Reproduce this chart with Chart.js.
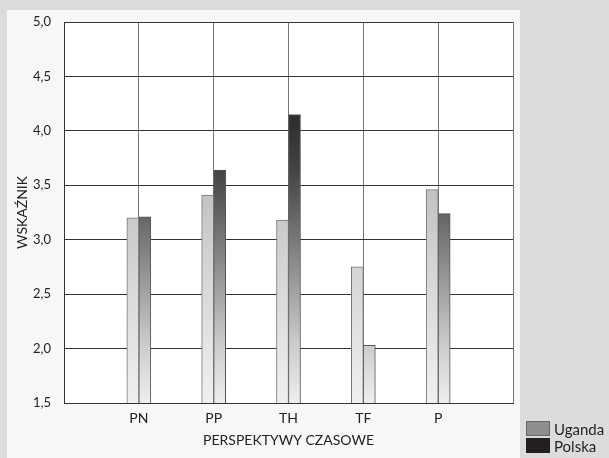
<!DOCTYPE html>
<html>
<head>
<meta charset="utf-8">
<script src="https://cdn.jsdelivr.net/npm/chart.js@4/dist/chart.umd.min.js"></script>
<style>
    html, body { margin: 0; padding: 0; background: #dcdcdc; }
    #wrap { position: relative; width: 609px; height: 458px; overflow: hidden; }
    #panel { position: absolute; left: 7px; top: 10px; width: 513px; height: 448px; background: #f7f7f7; }
    #chart { position: absolute; left: 0; top: 0; }
    .legend { position: absolute; left: 526px; font: 15px 'Lato', sans-serif; color: #231f20; line-height: 16px; white-space: nowrap; }
    .legend span { display: inline-block; width: 22px; height: 13px; vertical-align: top; margin-right: 4px; }
</style>
</head>
<body>
<div id="wrap">
    <div id="panel"></div>
    <canvas id="chart" width="609" height="458"></canvas>
    <div class="legend" style="top:421px"><span style="background:#8e8e8e;border:1px solid #666"></span>Uganda</div>
    <div class="legend" style="top:438px"><span style="background:#231f20;border:1px solid #231f20"></span>Polska</div>
</div>
<script>
// Dane wykresu
const CATEGORIES = ['', 'PN', 'PP', 'TH', 'TF', 'P', ''];
const UGANDA = [null, 3.20, 3.41, 3.18, 2.75, 3.46, null];
const POLSKA = [null, 3.21, 3.64, 4.15, 2.03, 3.24, null];
const Y_MIN = 1.5, Y_MAX = 5.0, Y_STEP = 0.5;

const FONT = "'Lato', sans-serif";
const TEXT = '#222';

// gradient liczony na cały obszar wykresu (ciemniej u góry)
const makeGradient = (chart, stops) => {
    const area = chart.chartArea;
    if (!area) return stops[0][1];
    const g = chart.ctx.createLinearGradient(0, area.bottom, 0, area.top);
    stops.forEach(([pos, col]) => g.addColorStop(pos, col));
    return g;
};

const whiteArea = {
    id: 'whiteArea',
    beforeDraw(chart) {
        const { ctx, chartArea: a } = chart;
        ctx.save();
        ctx.fillStyle = '#ffffff';
        ctx.fillRect(a.left, a.top, a.right - a.left, a.bottom - a.top);
        ctx.restore();
    }
};

new Chart(document.getElementById('chart'), {
    type: 'bar',
    data: {
        labels: CATEGORIES,
        datasets: [
            {
                label: 'Uganda',
                data: UGANDA,
                backgroundColor: (c) => makeGradient(c.chart, [[0, '#f0f0f0'], [0.36, '#d4d4d4'], [0.56, '#c2c2c4'], [1, '#b0b0b0']]),
                borderColor: '#777',
                borderWidth: 1,
                barThickness: 12
            },
            {
                label: 'Polska',
                data: POLSKA,
                backgroundColor: (c) => makeGradient(c.chart, [[0, '#eeeeee'], [0.15, '#cdcdcd'], [0.49, '#666666'], [0.61, '#444444'], [0.76, '#2b2b2b'], [1, '#202020']]),
                borderColor: '#555',
                borderWidth: 1,
                barThickness: 12
            }
        ]
    },
    options: {
        responsive: false,
        animation: false,
        layout: { padding: { top: 22, right: 96, left: 0, bottom: 0 } },
        plugins: {
            legend: { display: false },
            tooltip: { enabled: false }
        },
        scales: {
            x: {
                offset: false,
                grid: { color: '#777', lineWidth: 1, drawTicks: false, offset: false },
                border: { color: '#333', width: 1 },
                ticks: { color: TEXT, padding: 7, font: { family: FONT, size: 14 }, autoSkip: false, maxRotation: 0 },
                title: { display: true, text: 'PERSPEKTYWY CZASOWE', color: TEXT, font: { family: FONT, size: 14 }, padding: { top: 0, bottom: 9 } },
                afterFit: (s) => { s.height = 55; }
            },
            y: {
                min: Y_MIN,
                max: Y_MAX,
                grid: { color: '#333', lineWidth: 1, drawTicks: false },
                border: { color: '#333', width: 1 },
                ticks: {
                    stepSize: Y_STEP,
                    color: TEXT,
                    padding: 13,
                    font: { family: FONT, size: 13 },
                    callback: (v) => v.toFixed(1).replace('.', ',')
                },
                title: { display: true, text: 'WSKAŹNIK', color: TEXT, font: { family: FONT, size: 14 }, padding: { top: 14, bottom: 0 } },
                afterFit: (s) => { s.width = 64; }
            }
        }
    },
    plugins: [whiteArea]
});
</script>
</body>
</html>
